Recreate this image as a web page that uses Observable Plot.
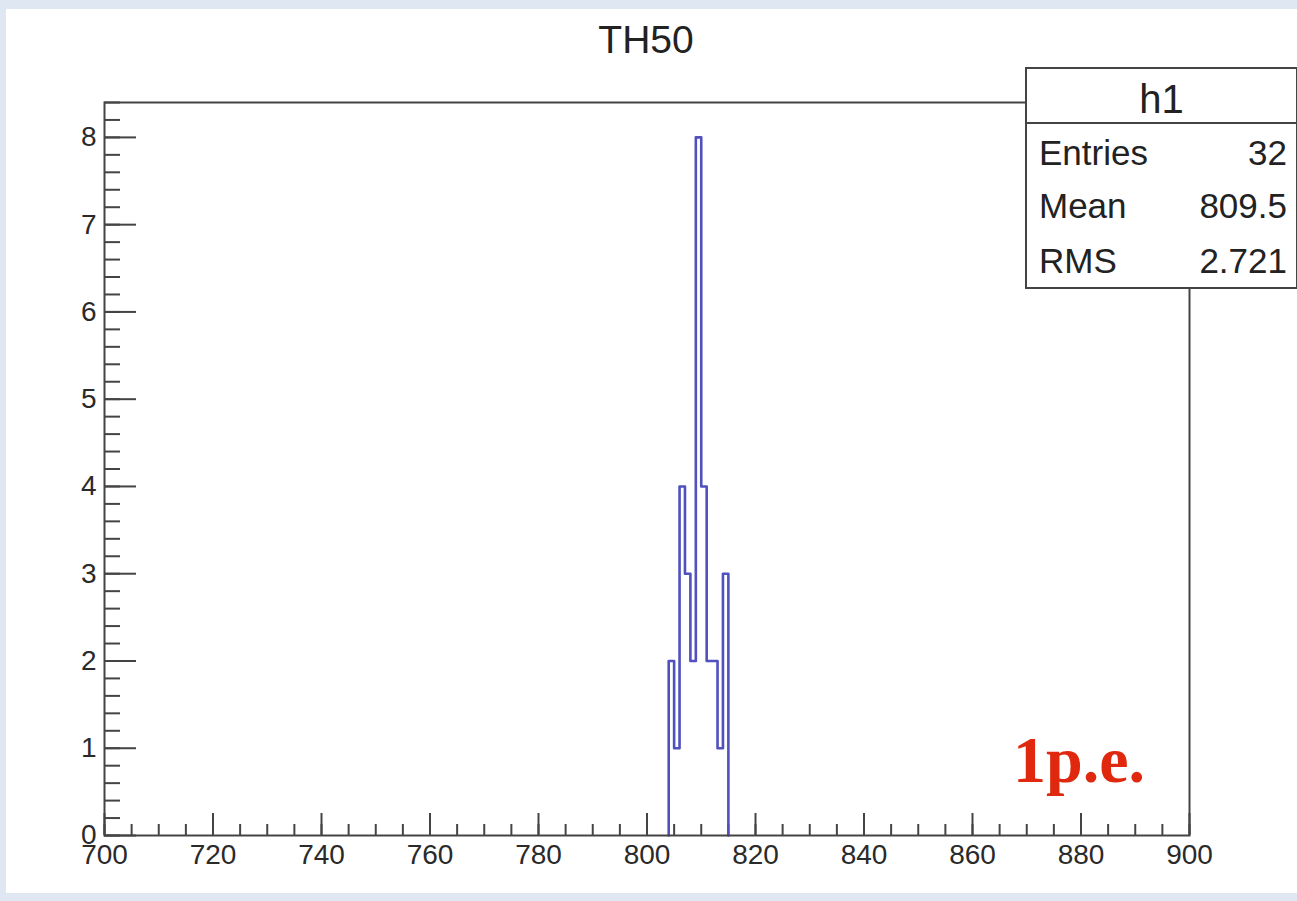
<!DOCTYPE html>
<html><head><meta charset="utf-8">
<script src="https://cdn.jsdelivr.net/npm/d3@7"></script>
<script src="https://cdn.jsdelivr.net/npm/@observablehq/plot@0.6"></script>
<style>
html,body{margin:0;padding:0;}
body{width:1297px;height:901px;background:#dfe8f2;position:relative;overflow:hidden;font-family:"Liberation Sans",Arial,sans-serif;}
#panel{position:absolute;left:6px;top:9px;width:1291px;height:884px;background:#fff;}
#chart{position:absolute;left:0;top:0;}
.t{position:absolute;line-height:1;white-space:nowrap;color:#222;}
#title{left:546px;width:200px;text-align:center;top:20px;font-size:39px;}
#stats{position:absolute;left:1025px;top:67px;width:269px;height:218px;border:2px solid #444;background:#fff;box-sizing:content-box;}
#stats .sep{position:absolute;left:0;right:0;top:53px;border-top:2px solid #444;}
#anno{left:1013px;top:727px;font-family:"Liberation Serif","Times New Roman",serif;font-weight:bold;font-size:66px;color:#e0280e;}
</style>
</head><body>
<div id="panel"></div>
<div id="chart"></div>
<div class="t" id="title"></div>
<div id="stats"><div class="sep"></div></div>
<div class="t" id="anno"></div>
<script>
// ---- data ----
const titleText = "TH50";
const histName = "h1";
const statLabels = ["Entries", "Mean", "RMS"];
const statValues = ["32", "809.5", "2.721"];
const annotation = "1p.e.";
const binEdges = [804, 805, 806, 807, 808, 809, 810, 811, 812, 813, 814, 815];
const counts   = [2, 1, 4, 3, 2, 8, 4, 2, 2, 1, 3];
const xMajorTicks = [700, 720, 740, 760, 780, 800, 820, 840, 860, 880, 900];
const yMajorTicks = [0, 1, 2, 3, 4, 5, 6, 7, 8];
const xMinorTicks = d3.range(0, 41).map(i => 700 + i * 5);
const yMinorTicks = d3.range(0, 43).map(i => i / 5);

// step outline of the histogram
const histPath = [{x: binEdges[0], y: 0}]
  .concat(counts.map((c, i) => ({x: binEdges[i], y: c})))
  .concat([{x: binEdges[binEdges.length - 1], y: 0}]);

document.getElementById("title").textContent = titleText;
document.getElementById("anno").textContent = annotation;

// stats box
const stats = document.getElementById("stats");
const h = document.createElement("div");
h.className = "t"; h.textContent = histName;
Object.assign(h.style, {left: "0px", width: "269px", textAlign: "center", top: "10px", fontSize: "40px"});
stats.appendChild(h);
const rowTops = [66, 119, 174];
statLabels.forEach((lab, i) => {
  const a = document.createElement("div");
  a.className = "t"; a.textContent = lab;
  Object.assign(a.style, {left: "12px", top: rowTops[i] + "px", fontSize: "35px"});
  const b = document.createElement("div");
  b.className = "t"; b.textContent = statValues[i];
  Object.assign(b.style, {right: "9px", top: rowTops[i] + "px", fontSize: "35px"});
  stats.appendChild(a); stats.appendChild(b);
});

const axisColor = "#444";
const chart = Plot.plot({
  width: 1297, height: 901,
  marginLeft: 104, marginRight: 108, marginTop: 102, marginBottom: 66,
  x: {domain: [700, 900], label: null},
  y: {domain: [0, 8.4], label: null},
  style: {background: "transparent", fontFamily: "Liberation Sans, Arial, sans-serif", color: "#222"},
  marks: [
    Plot.axisX({ticks: xMinorTicks, tickSize: -11, tickFormat: () => "", stroke: axisColor, strokeWidth: 2, label: null}),
    Plot.axisX({ticks: xMajorTicks, tickSize: -22, tickPadding: 31, tickFormat: d => String(d), stroke: axisColor, strokeWidth: 2, fill: "#2a2a2a", fontSize: 28, label: null}),
    Plot.axisY({ticks: yMinorTicks, tickSize: -16, tickFormat: () => "", stroke: axisColor, strokeWidth: 2, label: null}),
    Plot.axisY({ticks: yMajorTicks, tickSize: -32, tickPadding: 40, tickFormat: d => String(d), stroke: axisColor, strokeWidth: 2, fill: "#2a2a2a", fontSize: 28, label: null}),
    Plot.line(histPath, {x: "x", y: "y", curve: "step-after", stroke: "#5050bf", strokeWidth: 2.6}),
    Plot.frame({stroke: axisColor, strokeWidth: 2})
  ]
});
document.getElementById("chart").appendChild(chart);
</script>
</body></html>
